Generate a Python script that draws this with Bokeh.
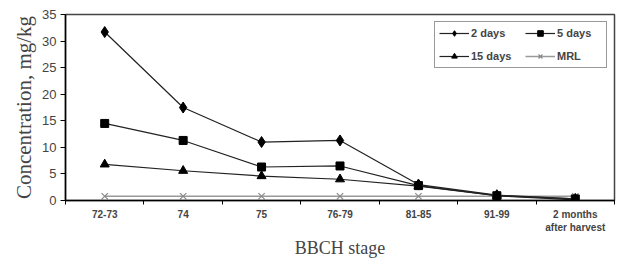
from bokeh.plotting import figure
from bokeh.models import FixedTicker, Range1d, Legend, LegendItem
from bokeh.embed import file_html
from bokeh.resources import INLINE

stages = ["72-73", "74", "75", "76-79", "81-85", "91-99", "2 months\nafter harvest"]
days2 = [31.7, 17.5, 11.0, 11.3, 3.0, 1.0, 0.3]
days5 = [14.5, 11.3, 6.3, 6.5, 2.8, 0.9, 0.3]
days15 = [6.8, 5.6, 4.6, 4.0, 2.7, 0.9, 0.1]
mrl = [0.8, 0.8, 0.8, 0.8, 0.8, 0.8, 0.8]
y_ticks = [0, 5, 10, 15, 20, 25, 30, 35]

xpos = [i + 0.5 for i in range(len(stages))]

p = figure(width=618, height=260, output_backend="svg", toolbar_location=None,
           x_range=Range1d(0, len(stages)), y_range=Range1d(0, 35),
           min_border_left=65, min_border_top=14, min_border_bottom=60, min_border_right=4)

p.xgrid.visible = False
p.ygrid.visible = False
p.outline_line_color = "#444444"
p.outline_line_width = 1.5

r_mrl_l = p.line(xpos, mrl, line_color="#999999", line_width=1.5)
r_mrl_m = p.scatter(xpos, mrl, marker="x", size=9, line_color="#888888", line_width=1.2)
r15_l = p.line(xpos, days15, line_color="#222222", line_width=1.2)
r15_m = p.scatter(xpos, days15, marker="triangle", size=9, color="black")
r5_l = p.line(xpos, days5, line_color="#222222", line_width=1.2)
r5_m = p.scatter(xpos, days5, marker="square", size=8, color="black")
r2_l = p.line(xpos, days2, line_color="#222222", line_width=1.2)
r2_m = p.scatter(xpos, days2, marker="diamond", size=11, color="black")

legend = Legend(items=[
    LegendItem(label="2 days", renderers=[r2_l, r2_m]),
    LegendItem(label="15 days", renderers=[r15_l, r15_m]),
    LegendItem(label="5 days", renderers=[r5_l, r5_m]),
    LegendItem(label="MRL", renderers=[r_mrl_l, r_mrl_m]),
], location="top_right")
legend.ncols = 2
legend.label_text_font = "Liberation Sans"
legend.label_text_font_style = "bold"
legend.label_text_font_size = "11px"
legend.border_line_color = "#333333"
legend.border_line_width = 1.5
legend.background_fill_alpha = 1
legend.glyph_width = 30
legend.glyph_height = 14
legend.label_standoff = 2
legend.label_height = 14
legend.label_width = 45
legend.spacing = 9
legend.padding = 4
legend.margin = 7
p.add_layout(legend)

# x axis: labels at category centres, ticks at boundaries
p.xaxis.ticker = FixedTicker(ticks=xpos, minor_ticks=list(range(len(stages) + 1)))
p.xaxis.major_label_overrides = {x: s for x, s in zip(xpos, stages)}
p.xaxis.major_tick_line_color = None
p.xaxis.minor_tick_line_color = "black"
p.xaxis.minor_tick_out = 4
p.xaxis.minor_tick_in = 0
p.xaxis.major_label_text_font = "Liberation Sans"
p.xaxis.major_label_text_font_style = "bold"
p.xaxis.major_label_text_font_size = "10px"
p.xaxis.major_label_standoff = 2
p.xaxis.axis_line_color = "black"
p.xaxis.axis_line_width = 1.5
p.xaxis.axis_label = "BBCH stage"
p.xaxis.axis_label_text_font = "Liberation Serif"
p.xaxis.axis_label_text_font_style = "normal"
p.xaxis.axis_label_text_font_size = "18px"
p.xaxis.axis_label_standoff = 2

p.yaxis.ticker = FixedTicker(ticks=y_ticks)
p.yaxis.minor_tick_line_color = None
p.yaxis.major_tick_out = 5
p.yaxis.major_tick_in = 0
p.yaxis.major_label_text_font = "Liberation Sans"
p.yaxis.major_label_text_font_size = "13px"
p.yaxis.major_label_standoff = 4
p.yaxis.axis_line_color = "black"
p.yaxis.axis_line_width = 1.5
p.yaxis.axis_label = "Concentration, mg/kg"
p.yaxis.axis_label_text_font = "Liberation Serif"
p.yaxis.axis_label_text_font_style = "normal"
p.yaxis.axis_label_text_font_size = "21px"
p.yaxis.axis_label_standoff = 3

open("out.html", "w").write(file_html(p, INLINE))
